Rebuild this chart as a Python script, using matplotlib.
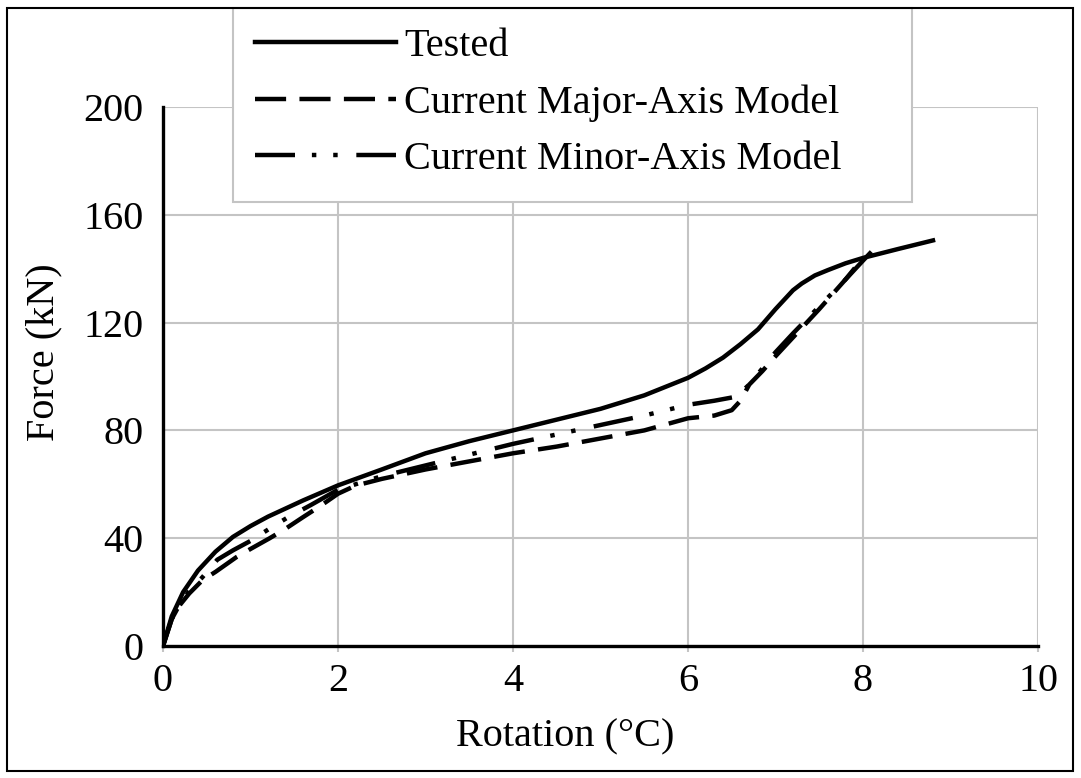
import matplotlib.pyplot as plt
from matplotlib.patches import Rectangle

plt.rcParams['font.family'] = ['Liberation Serif', 'DejaVu Serif']

# Datos
tested_x = [0, 0.1, 0.23, 0.4, 0.6, 0.8, 1.0, 1.2, 1.6, 2.0, 2.5, 3.0, 3.5,
            4.0, 4.5, 5.0, 5.5, 6.0, 6.2, 6.4, 6.6, 6.8, 7.0, 7.2, 7.3,
            7.45, 7.6, 7.8, 8.0, 8.4, 8.8]
tested_y = [0, 11, 20, 28, 35, 40.5, 44.5, 48, 54, 59.6, 65.5, 71.5, 76,
            80, 84, 88, 93, 99.5, 103, 107, 112, 117.5, 125, 132, 134.5,
            137.5, 139.5, 142, 144, 147.3, 150.5]

major_x = [0, 0.1, 0.2, 0.3, 0.45, 0.6, 0.84, 1.0, 1.22, 1.4, 1.6, 1.8,
           2.0, 2.2, 2.5, 3.0, 3.5, 4.0, 4.5, 5.0, 5.5, 6.0, 6.3, 6.5,
           6.6, 6.7, 6.85, 7.0, 7.2, 7.5, 7.8, 8.0]
major_y = [0, 10, 15.5, 19.5, 24.4, 27.5, 33, 36, 40, 43.5, 47.8, 52,
           56.5, 59.5, 62, 65.5, 68.5, 71.5, 74, 77, 80, 84.5, 85.5, 87.5,
           91, 97, 102, 107.5, 114.5, 125, 136, 144]

minor_x = [0, 0.1, 0.2, 0.3, 0.45, 0.62, 0.8, 1.0, 1.22, 1.41, 1.7, 2.0,
           2.5, 3.0, 3.5, 4.0, 4.5, 5.0, 5.5, 6.0, 6.3, 6.55, 6.7, 6.85,
           7.0, 7.2, 7.5, 7.8, 8.0, 8.16]
minor_y = [0, 10, 16, 20.5, 25.5, 32, 35.5, 39, 43.6, 47.4, 52.5, 58,
           63, 67, 71, 75, 78.5, 82, 85.5, 89.5, 91, 92.5, 97, 103,
           109, 116, 126, 136, 143, 148.5]

labels = ['Tested', 'Current Major-Axis Model', 'Current Minor-Axis Model']
x_ticks = [0, 2, 4, 6, 8, 10]
y_ticks = [0, 40, 80, 120, 160, 200]

W, H = 1081, 778
fig = plt.figure(figsize=(W / 100, H / 100), dpi=100)
ax = fig.add_axes([163 / W, 1 - 646 / H, 875 / W, 539 / H])

lw = 3.2
l1, = ax.plot(tested_x, tested_y, color='black', lw=lw)
l2, = ax.plot(major_x, major_y, color='black', lw=lw, dashes=[7, 3])
l3, = ax.plot(minor_x, minor_y, color='black', lw=lw,
              dashes=[9, 3.8, 1, 3.8, 1, 4.2])

ax.set_xlim(0, 10)
ax.set_ylim(0, 200)
ax.set_xticks(x_ticks)
ax.set_yticks(y_ticks)
ax.grid(True, color='#c4c4c4', lw=1.5)
ax.set_axisbelow(True)
for s in ['top', 'right']:
    ax.spines[s].set_visible(False)
for s in ['left', 'bottom']:
    ax.spines[s].set_linewidth(2.4)
    ax.spines[s].set_zorder(3)
ax.tick_params(axis='x', length=4, width=1.5, color='#c4c4c4', pad=8,
               labelsize=29)
ax.tick_params(axis='y', length=0, pad=14, labelsize=29)

ax.set_xlabel('Rotation (°C)', fontsize=29)
ax.xaxis.set_label_coords(0.46, -0.135)
ax.set_ylabel('Force (kN)', fontsize=29)
ax.yaxis.set_label_coords(-0.115, 0.545)

# caja de la leyenda
box = Rectangle((233 / W, 1 - 202 / H), 679 / W, 194 / H,
                transform=fig.transFigure, facecolor='white',
                edgecolor='#c4c4c4', lw=1.5, zorder=5)
fig.add_artist(box)
leg = fig.legend([l1, l2, l3], labels, loc='upper left',
                 bbox_to_anchor=(255 / W, 1 - 28 / H), frameon=False,
                 fontsize=29, handlelength=3.5, handletextpad=0.2,
                 labelspacing=0.47, borderpad=0, borderaxespad=0)
leg.set_zorder(6)

# borde exterior
fig.add_artist(Rectangle((7 / W, 7 / H), 1066 / W, 763 / H,
                         transform=fig.transFigure, fill=False,
                         edgecolor='black', lw=1.5, zorder=7))

fig.savefig('out.png', dpi=100)
